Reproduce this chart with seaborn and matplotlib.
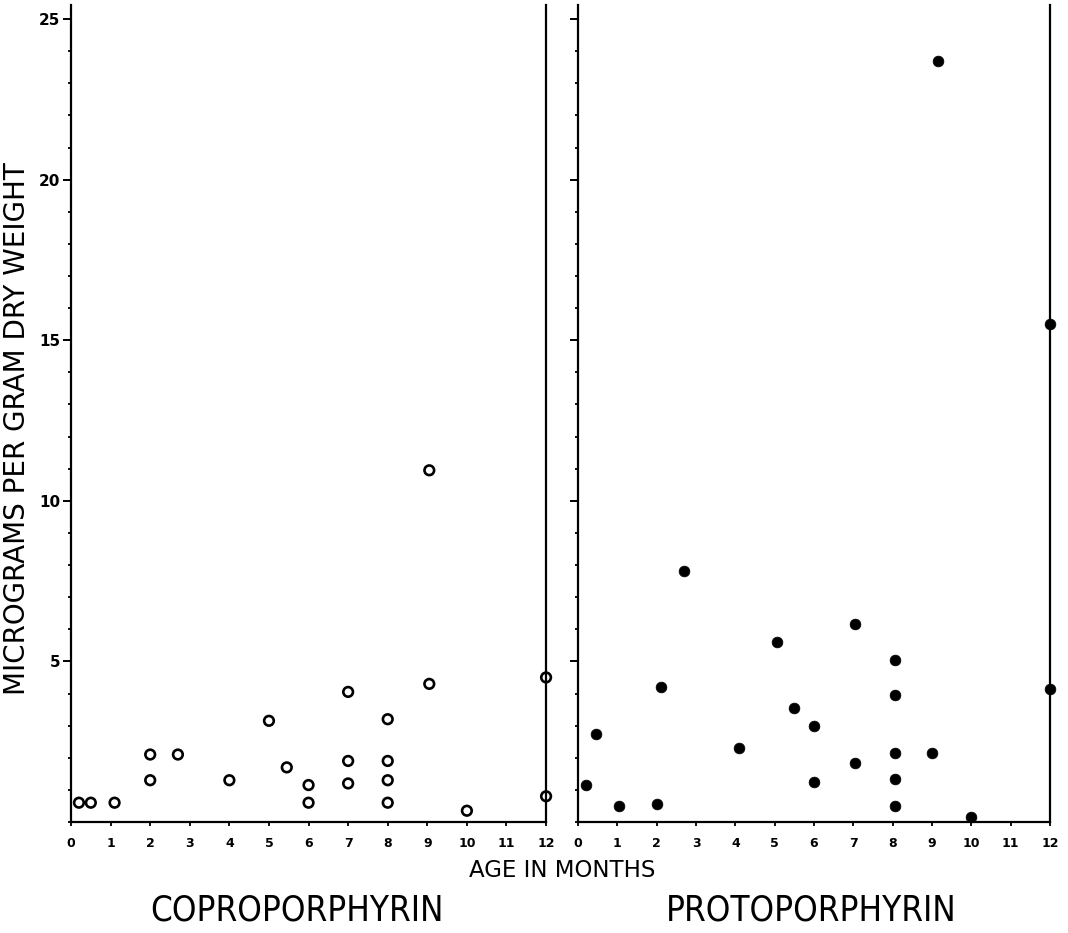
import pandas as pd
import matplotlib
matplotlib.use("Agg")
import matplotlib.pyplot as plt
import seaborn as sns
from matplotlib.ticker import MultipleLocator

sns.set_style("ticks")
plt.rcParams['font.family'] = ['DejaVu Sans']
plt.rcParams['text.color'] = 'black'
plt.rcParams['xtick.color'] = 'black'
plt.rcParams['ytick.color'] = 'black'

# Datos (edad en meses, microgramos por gramo de peso seco)
copro_month = [0.2, 0.5, 1.1, 2.0, 2.0, 2.7, 4.0, 5.0, 5.45, 6.0, 6.0, 7.0, 7.0, 7.0,
               8.0, 8.0, 8.0, 8.0, 9.05, 9.05, 10.0, 12.0, 12.0]
copro_value = [0.6, 0.6, 0.6, 2.1, 1.3, 2.1, 1.3, 3.15, 1.7, 1.15, 0.6, 4.05, 1.9, 1.2,
               3.2, 1.9, 1.3, 0.6, 10.95, 4.3, 0.35, 4.5, 0.8]

proto_month = [0.2, 0.45, 1.05, 2.0, 2.1, 2.7, 4.1, 5.05, 5.5, 6.0, 6.0, 7.05, 7.05,
               8.05, 8.05, 8.05, 8.05, 8.05, 9.0, 9.15, 10.0, 12.0, 12.0]
proto_value = [1.15, 2.75, 0.5, 0.55, 4.2, 7.8, 2.3, 5.6, 3.55, 3.0, 1.25, 6.15, 1.85,
               5.05, 3.95, 2.15, 1.35, 0.5, 2.15, 23.7, 0.15, 4.15, 15.5]

month_ticks = list(range(0, 13))
value_ticks = [5, 10, 15, 20, 25]

copro = pd.DataFrame({"month": copro_month, "value": copro_value})
proto = pd.DataFrame({"month": proto_month, "value": proto_value})

fig = plt.figure(figsize=(10.68, 9.33), dpi=100)
ax1 = fig.add_axes([0.0665, 0.119, 0.4448, 0.8757])
ax2 = fig.add_axes([0.5412, 0.119, 0.4420, 0.8757])

sns.scatterplot(data=copro, x="month", y="value", ax=ax1, marker="o", s=48,
                facecolor="none", edgecolor="black", linewidth=1.9, clip_on=False, zorder=5)
sns.scatterplot(data=proto, x="month", y="value", ax=ax2, marker="o", s=60,
                color="black", edgecolor="black", linewidth=0.5, clip_on=False, zorder=5)

for ax in (ax1, ax2):
    ax.set_xlim(0, 12)
    ax.set_ylim(0, 25.44)
    ax.spines['top'].set_visible(False)
    for s in ('left', 'right', 'bottom'):
        ax.spines[s].set_linewidth(1.6)
        ax.spines[s].set_color('black')
    ax.set_xticks(month_ticks)
    ax.set_xticklabels([str(m) for m in month_ticks], fontsize=9, fontweight='bold')
    ax.yaxis.set_major_locator(MultipleLocator(5))
    ax.yaxis.set_minor_locator(MultipleLocator(1))
    ax.tick_params(axis='x', direction='out', length=3, width=1.3, pad=8)
    ax.tick_params(axis='y', which='major', direction='out', length=5.5, width=1.4, pad=2)
    ax.tick_params(axis='y', which='minor', direction='out', length=2.5, width=1.3)
    ax.set_xlabel("")
    ax.set_ylabel("")

ax1.set_yticks(value_ticks)
ax1.set_yticklabels([str(v) for v in value_ticks], fontsize=11, fontweight='bold')
ax2.set_yticks(value_ticks)
ax2.set_yticklabels([])

fig.text(0.016, 0.541, "MICROGRAMS PER GRAM DRY WEIGHT", fontsize=20, rotation=90,
         ha='center', va='center')
fig.text(0.526, 0.0675, "AGE IN MONTHS", fontsize=16.5, ha='center', va='center')
fig.text(0.278, 0.024, "COPROPORPHYRIN", fontsize=25, ha='center', va='center',
         fontstretch='condensed')
fig.text(0.760, 0.024, "PROTOPORPHYRIN", fontsize=25, ha='center', va='center',
         fontstretch='condensed')

plt.savefig("out.png", dpi=100)
plt.close()
